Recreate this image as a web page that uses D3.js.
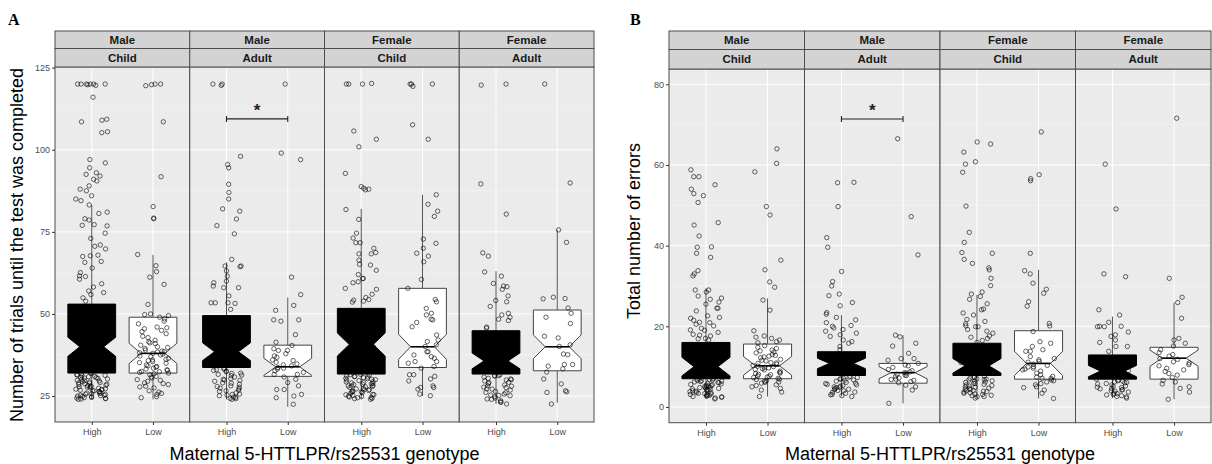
<!DOCTYPE html>
<html>
<head>
<meta charset="utf-8">
<script src="https://cdn.jsdelivr.net/npm/d3@7"></script>
<style>
  body { margin: 0; background: #fff; }
</style>
</head>
<body>
<script>
const [width, height] = [1212, 464];
const sans = '"Liberation Sans", Arial, sans-serif';
const serif = '"Liberation Serif", "Times New Roman", serif';

// facets and groups
const sexes = ['Male', 'Male', 'Female', 'Female'];
const ages = ['Child', 'Adult', 'Child', 'Adult'];
const genotypes = ['High', 'Low'];

// box stats per group: [lower whisker, q1, median, q3, upper whisker, notch half]
// order: MC-High, MC-Low, MA-High, MA-Low, FC-High, FC-Low, FA-High, FA-Low
const trialsStats = [
  [24, 32, 40, 53, 83.2, 2.9],
  [24, 32, 38, 49, 68, 3.1],
  [24, 33.7, 38.5, 49.5, 65.7, 2.7],
  [21.7, 31, 33.9, 40.5, 55, 2.6],
  [24, 31.7, 40.7, 51.7, 82, 3.5],
  [25, 33.7, 40, 57.8, 86.3, 3.8],
  [22.6, 31.7, 35.7, 44.9, 63, 2.4],
  [23, 32.7, 40, 51.2, 75.6, 3.6]
];

const errorsStats = [
  [2, 7, 10, 16, 29.4, 2.3],
  [2.6, 7, 10.2, 15.6, 26.9, 2.3],
  [2.6, 7.8, 10.8, 13.7, 22.8, 1.3],
  [0.9, 5.9, 8.5, 10.8, 17.8, 1.5],
  [2.2, 7.8, 10.2, 15.8, 27.8, 1.8],
  [2.1, 6.9, 10.8, 18.9, 34, 3],
  [2.2, 6.9, 8.9, 12.9, 22.4, 1.4],
  [1.9, 6.9, 12.1, 14.8, 25.9, 2]
];

const trialsPoints = [
  [120,120,120,119.8,120,119.6,120,120,116,109.3,109,108.5,105.5,105.2,97,96,94.5,93,92.5,92,91,90.5,89,88,87.5,86,85,84.5,83.2,81,80.6,79,78.6,77,77.2,76.8,74.6,73,71,70.6,69.8,67.7,67.5,67.9,66,65.7,64,62.6,61.6,61.4,60.6,59.2,58.2,57,56.5,55.9,54.9,53.9,52,50.5,49,47,45.5,44,42,40,38.5,37,35,33.5,32,31.8,31.5,31.2,31,30.7,30.4,30.1,29.8,29.6,29.3,29,28.8,28.5,28.2,28,27.7,27.5,27.2,27,26.8,26.5,26.3,26,25.8,25.5,25.3,25,24.8,24.5,24.3,24,24.1,24.6,25.2,25.9,26.6,27.4,28.3,29.4,30.6,31.4,24.4,25.7,27.9,31.9,31.3,30.9,30.2,29.7,29.1,28.6,27.8,27.1,26.4,25.6,24.9,24.2,30.5,28.9,26.9,25.1],
  [120,120,119.8,119.5,108.5,91.8,82.7,79.2,79,68.1,64.7,62.9,61.2,59,52.9,50,49.8,49.5,49,48.5,47.8,47,46,45.8,45.5,45,44.6,44,43.2,42.8,42,41.5,41.2,41,40.5,40,39.8,39.5,39,38.7,38.5,38.4,38.2,38,37.8,37.5,37.2,37,36.5,36.2,36,35.8,35.5,35.2,35,34.5,34.2,34,33.8,33.5,33.2,33,32.8,32.5,32.4,32.2,32,31.8,31.5,31,30.8,30.5,30,29.8,29.5,29,28.8,28.5,28,27.8,27.5,26.6,26.2,25.8,25.5,24.8,24.5],
  [120,120,119.6,98,95.5,94.5,89.5,87,85,82,81.3,78.9,76.9,74.4,66.6,64.6,64.6,64.4,63.1,61.5,60,59.5,58.5,58,58,55.5,53.4,53.4,53.2,53.4,51.4,48,46,44,42,40,38,36,34.5,33.5,33.2,32.8,32.6,32.4,32,31.6,31.4,31.2,30.8,30.3,30.1,29.9,29.5,29,28.9,28.6,28.1,27.9,27.7,27.2,26.8,26.6,26.4,26,25.5,25.3,25.1,24.7,24.6,24.3,24,24.2,25.6,27.4,29.8,31.9,33],
  [120,99,97,61.2,55.9,52.6,51.1,48.2,48.2,47.8,43.7,40.4,41.4,39.4,38.9,38.9,37.9,36.8,36,35.3,34.2,34.8,33.7,33.2,32.7,32.2,31.6,31.6,30.8,30.1,28.1,29.1,27,27,25,25.5,24.5,22.5,34.5,33.5,35.8,37.2],
  [120.2,120,120,120,105.7,103.2,100.9,92.8,88.8,88.3,88,87.8,81.8,78.8,74.6,73.1,71.7,71.7,70,68.3,68.3,68.7,66.4,64.9,65.1,63.3,62,60.8,60.8,59.5,59.8,57.5,57.8,56,55,54.4,54.2,53.9,53.6,50,48,46,44,42,40,38,36,34,32.5,31.5,31.4,31.2,31,30.9,30.6,30.4,30.3,30.1,30,29.7,29.4,29.3,29.1,28.8,28.6,28.5,28.2,28.1,27.9,27.8,27.6,27.3,27,26.7,26.5,26.4,26.2,26.1,25.8,25.5,25.4,25.2,24.9,24.7,24.6,24.3,24.2,24,24.5,25.4,26.3,27.2,28.1,29,29.9,30.8,31.6,25,26.9,28.7],
  [120,120,120,119.3,107.6,103.2,86.3,83.4,81.3,79.7,72.8,71.5,70,68.5,67.6,65.9,60.5,57.8,54.4,53.7,51.7,50.2,49.7,48.4,48.2,47.4,46.1,43.6,42.1,41.6,40.6,40.1,38.5,38.5,37.5,37,36.5,35.5,35.5,35,34,33.5,31.5,31.5,31,30.2,29.6,27.6,27.6,28.1,27.1,25.1,25.6],
  [120,119.7,89.6,80.4,68.6,67.6,62.8,61.5,59.3,58.5,58.3,57.5,55.5,54.1,53.7,52.3,50.2,49.7,49,48.4,48,46,45.7,44,42,40,38,36,34,32.5,31.5,31.2,31.2,30.8,30.4,30.2,30,29.6,29.2,29.1,28.8,28.4,28.1,28,27.6,27.2,27.1,26.8,26.4,26.1,26,25.6,25.2,25.1,24.8,24.4,24.1,24,23.6,23.2,23.1,22.6,25.3,27.7,29.9,31.1],
  [120,89.9,75.6,71.8,55.1,54.7,54.6,51.8,50.2,49,47.1,43.2,42.7,40.6,40.1,37.8,37.6,34.6,34.6,34.1,33.3,32.3,30.2,28.7,26.6,26.3,26.1,22.6]
];

const errorsPoints = [
  [57.1,57.1,58.8,55.1,54,52.9,52.4,50.7,45.7,45.1,42.4,39.7,39.6,38.1,37.1,33.8,33,32.5,29,29,28.5,27.5,27,26.7,26,25.5,24.5,24.5,23.8,22.6,22.2,22,21.5,21,20.9,20.5,20.1,19.5,19.1,19,18.5,18,17.8,17.6,17,16.9,16.6,15,14,13,12,11,10,9,8,7,6.9,6.8,6.7,6.6,6.4,6.3,6.2,6,5.8,5.7,5.6,5.4,5.3,5.2,5,4.9,4.8,4.7,4.6,4.4,4.3,4.2,4,3.9,3.8,3.6,3.4,3.3,3.2,3,2.9,2.8,2.6,2.5,2.4,2.2,2,6.5,5.5,4.5,3.5,2.7,6.1,5.1,4.1,3.1],
  [64,60.4,58.3,49.7,47.6,36.4,34,31,29.7,26.5,24,18.9,17.6,17,17.3,16.6,16.2,15.9,14.5,14.1,15.2,14.8,13.9,13.6,13.4,13,12.8,12.6,12.2,11.8,11.6,11.4,11,10.9,10.6,10.3,10.1,10,9.8,9.5,9.3,9.2,8.9,8.6,8.4,8.3,8,7.7,7.6,7.4,7.1,6.9,6.8,6.5,6.2,6.1,5.9,5.5,5.3,5,4.6,4.2,3.7,2.6,12.4,10.8,9.7,8.1,7.3,6.4],
  [55.7,55.6,49.7,42,39.6,33.6,31.1,30,28,27.6,25.9,25.1,23.4,23,22.2,21.6,20.9,20.2,20,19.6,19.2,18.8,18.3,17.9,17.5,16.6,16.2,15.8,15,14.2,13,12,11,10,9,8.5,7.6,7.4,7.3,7.1,7,6.7,6.6,6.4,6.1,5.9,5.8,5.6,5.5,5.2,5,4.9,4.8,4.6,4.4,4.3,4,3.7,3.6,3.4,3.1,3,2.8,2.6,6.9,5.3,4.1],
  [66.5,47.2,37.7,17.8,17.4,15.8,15.1,13.3,12,11.6,12,10.4,10.8,10.2,9.8,9.3,9,8.7,8.4,8.1,7.8,7.5,7.2,6.9,6.6,6.3,6,5.4,5,4.2,0.9,8.5,7.9,6.8],
  [65.7,65.2,63.2,60.8,60.2,58.2,49.8,43.3,40.8,38.3,38.1,36.6,35.6,34.5,34,31.9,30.1,28.5,28,27.4,26.7,25.6,24.3,24.1,23.3,22.8,21.7,21.2,20.6,20.1,19.9,19.9,19.2,18.8,18.3,17.6,17.3,17,16.5,16,15,13.5,12,11,10,9,7.6,7.4,7.3,7,6.9,6.7,6.5,6.4,6.1,5.9,5.8,5.6,5.5,5.2,4.9,4.7,4.6,4.3,4,3.8,3.7,3.4,3.2,3.1,2.8,2.6,2.5,2.2,7.1,6.2,5.3,4.4,3.5,2.9,6.8,5,3.9,4.1],
  [68.2,57.6,56.6,56.1,38.1,33.8,33,30.7,29.2,28.2,26.1,25,20.7,20.1,18.7,16.2,15.8,15,14.2,13.8,13.8,12,11.7,11.3,11.1,10.3,10,9.6,9.4,9.2,8.4,8,7.4,7.1,7.1,6.7,6.5,6.2,5.8,5.5,5,4.8,4.2,3.4,12.5,10.6,9.9,8.9,7.6,2.1],
  [60.2,49.1,33,32.3,24.1,22.8,21,20,20,19.9,19.9,18.6,17.9,17.5,16.6,16,15,15,13.8,12,11,10,9,8,6.7,6.5,6.4,6.2,6.1,5.8,5.7,5.5,5.2,4.9,4.8,4.6,4.5,4.3,4,3.9,3.7,3.4,3.1,3,2.8,2.6,2.5,2.2,6.9,6,5.1,4.2,3.3],
  [71.6,31.9,27.2,25.9,22,17,16.6,15.8,15.1,14.2,13.5,13,12.6,12,11.8,11.2,10.9,10.5,10.2,9.6,9.2,8.8,8.3,7.9,7.3,6.6,6.2,5.7,5,4.6,3.7,1.9]
];

const trialsTicks = [25, 50, 75, 100, 125];
const errorsTicks = [0, 20, 40, 60, 80];

// significance bracket: [facet index, y value]
const trialsSig = [1, 109.4];
const errorsSig = [1, 71.4];

const svg = d3.select('body')
              .append('svg')
              .attr('width', width)
              .attr('height', height);

svg.append('rect').attr('width', width).attr('height', height).attr('fill', '#fff');

// pseudo jitter so the picture is stable
function jitter(i, g){
    const s = Math.sin((i + 1) * 12.9898 + g * 78.233) * 43758.5453;
    return (s - Math.floor(s)) - 0.5;
}

function drawPanel(cfg){
    const g = svg.append('g');
    const facetIds = d3.range(sexes.length);
    const fx = d3.scaleBand().domain(facetIds).range([cfg.left, cfg.right]);
    const y = d3.scaleLinear().domain(cfg.yDomain).range([cfg.bottom, cfg.top]);
    const minor = d3.range(cfg.ticks.length - 1).map(i => (cfg.ticks[i] + cfg.ticks[i + 1]) / 2);

    facetIds.forEach(f => {
        const x0 = fx(f), x1 = x0 + fx.bandwidth();
        const x = d3.scalePoint().domain(genotypes).range([x0, x1]).padding(0.6);
        const step = x.step();
        const fg = g.append('g');

        fg.append('rect')
          .attr('x', x0).attr('y', cfg.top)
          .attr('width', x1 - x0).attr('height', cfg.bottom - cfg.top)
          .attr('fill', '#ebebeb');

        fg.selectAll('line.minor').data(minor).enter().append('line')
          .attr('x1', x0).attr('x2', x1)
          .attr('y1', d => y(d)).attr('y2', d => y(d))
          .attr('stroke', '#f5f5f5').attr('stroke-width', 0.6);
        fg.selectAll('line.major').data(cfg.ticks).enter().append('line')
          .attr('x1', x0).attr('x2', x1)
          .attr('y1', d => y(d)).attr('y2', d => y(d))
          .attr('stroke', '#fff').attr('stroke-width', 1);
        fg.selectAll('line.vgrid').data(genotypes).enter().append('line')
          .attr('x1', d => x(d)).attr('x2', d => x(d))
          .attr('y1', cfg.top).attr('y2', cfg.bottom)
          .attr('stroke', '#fff').attr('stroke-width', 1);

        genotypes.forEach((gt, gi) => {
            const idx = f * 2 + gi;
            const [lo, q1, med, q3, hi, nd] = cfg.stats[idx];
            const cx = x(gt);
            const bw = 0.78 * step;
            const xmin = cx - bw / 2, xmax = cx + bw / 2;
            const ind = bw * 0.25;
            const dark = gt === 'High';

            fg.append('line')
              .attr('x1', cx).attr('x2', cx)
              .attr('y1', y(q3)).attr('y2', y(hi))
              .attr('stroke', '#555').attr('stroke-width', 1);
            fg.append('line')
              .attr('x1', cx).attr('x2', cx)
              .attr('y1', y(q1)).attr('y2', y(lo))
              .attr('stroke', '#555').attr('stroke-width', 1);

            const pts = [
                [xmin, q3], [xmin, med + nd], [xmin + ind, med], [xmin, med - nd], [xmin, q1],
                [xmax, q1], [xmax, med - nd], [xmax - ind, med], [xmax, med + nd], [xmax, q3]
            ];
            fg.append('path')
              .attr('d', d3.line().x(d => d[0]).y(d => y(d[1]))(pts) + 'Z')
              .attr('fill', dark ? '#000' : '#fff')
              .attr('stroke', dark ? '#000' : '#444')
              .attr('stroke-width', 1);
            fg.append('line')
              .attr('x1', xmin + ind).attr('x2', xmax - ind)
              .attr('y1', y(med)).attr('y2', y(med))
              .attr('stroke', '#000').attr('stroke-width', 1.6);

            fg.selectAll('circle.p' + idx)
              .data(cfg.points[idx])
              .enter()
              .append('circle')
              .attr('cx', (d, i) => cx + jitter(i, idx + cfg.seed) * 0.52 * step)
              .attr('cy', d => y(d))
              .attr('r', 2.2)
              .attr('fill', 'none')
              .attr('stroke', '#000')
              .attr('stroke-width', 0.7)
              .attr('opacity', 0.85);
        });

        // significance bracket
        if (cfg.sig[0] === f){
            const xa = x('High'), xb = x('Low'), ys = y(cfg.sig[1]);
            fg.append('path')
              .attr('d', `M${xa},${ys - 3}V${ys + 3}M${xa},${ys}H${xb}M${xb},${ys - 3}V${ys + 3}`)
              .attr('stroke', '#222').attr('stroke-width', 1.1).attr('fill', 'none');
            fg.append('text')
              .attr('x', (xa + xb) / 2).attr('y', ys - 3)
              .attr('text-anchor', 'middle')
              .style('font-family', sans)
              .attr('font-size', 17).attr('font-weight', 'bold')
              .attr('fill', '#222')
              .text('*');
        }

        fg.append('rect')
          .attr('x', x0).attr('y', cfg.top)
          .attr('width', x1 - x0).attr('height', cfg.bottom - cfg.top)
          .attr('fill', 'none').attr('stroke', '#4d4d4d').attr('stroke-width', 1);

        // strips
        [[sexes[f], cfg.stripTop, cfg.stripMid], [ages[f], cfg.stripMid, cfg.top]].forEach(([lab, t, b]) => {
            fg.append('rect')
              .attr('x', x0).attr('y', t)
              .attr('width', x1 - x0).attr('height', b - t)
              .attr('fill', '#d3d3d3').attr('stroke', '#4d4d4d').attr('stroke-width', 1);
            fg.append('text')
              .attr('x', (x0 + x1) / 2).attr('y', (t + b) / 2 + 4)
              .attr('text-anchor', 'middle')
              .style('font-family', sans)
              .attr('font-size', 11.5).attr('font-weight', 'bold')
              .attr('fill', '#1a1a1a')
              .text(lab);
        });

        const xAxis = fg.append('g')
          .attr('transform', `translate(0,${cfg.bottom})`)
          .call(d3.axisBottom(x).tickSize(3).tickPadding(4));
        xAxis.select('.domain').remove();
        xAxis.selectAll('line').attr('stroke', '#333');
        xAxis.selectAll('text').attr('font-size', 9).attr('fill', '#4d4d4d')
             .style('font-family', sans);
    });

    const yAxis = g.append('g')
      .attr('transform', `translate(${cfg.left},0)`)
      .call(d3.axisLeft(y).tickValues(cfg.ticks).tickSize(3).tickPadding(2));
    yAxis.select('.domain').remove();
    yAxis.selectAll('line').attr('stroke', '#333');
    yAxis.selectAll('text').attr('font-size', 9).attr('fill', '#4d4d4d')
         .style('font-family', sans);

    g.append('text')
      .attr('transform', `translate(${cfg.yTitleX},${cfg.yTitleY}) rotate(-90)`)
      .attr('text-anchor', 'middle')
      .style('font-family', sans)
      .attr('font-size', 18)
      .attr('fill', '#000')
      .text(cfg.yTitle);

    g.append('text')
      .attr('x', (cfg.left + cfg.right) / 2).attr('y', 460)
      .attr('text-anchor', 'middle')
      .style('font-family', sans)
      .attr('font-size', 18)
      .attr('fill', '#000')
      .text('Maternal 5-HTTLPR/rs25531 genotype');

    g.append('text')
      .attr('x', cfg.letterX).attr('y', 25)
      .style('font-family', serif)
      .attr('font-weight', 'bold')
      .attr('font-size', 16)
      .attr('fill', '#000')
      .text(cfg.letter);
}

drawPanel({
    left: 55, right: 594, stripTop: 31, stripMid: 48.5, top: 67, bottom: 422,
    yDomain: [17.1, 125.2], ticks: trialsTicks,
    stats: trialsStats, points: trialsPoints, sig: trialsSig, seed: 0,
    yTitle: 'Number of trials until the test was completed', yTitleX: 23, yTitleY: 245,
    letter: 'A', letterX: 8
});

drawPanel({
    left: 669, right: 1211, stripTop: 31, stripMid: 49.5, top: 69, bottom: 422.7,
    yDomain: [-3.9, 83.8], ticks: errorsTicks,
    stats: errorsStats, points: errorsPoints, sig: errorsSig, seed: 20,
    yTitle: 'Total number of errors', yTitleX: 640, yTitleY: 231,
    letter: 'B', letterX: 630
});
</script>
</body>
</html>
